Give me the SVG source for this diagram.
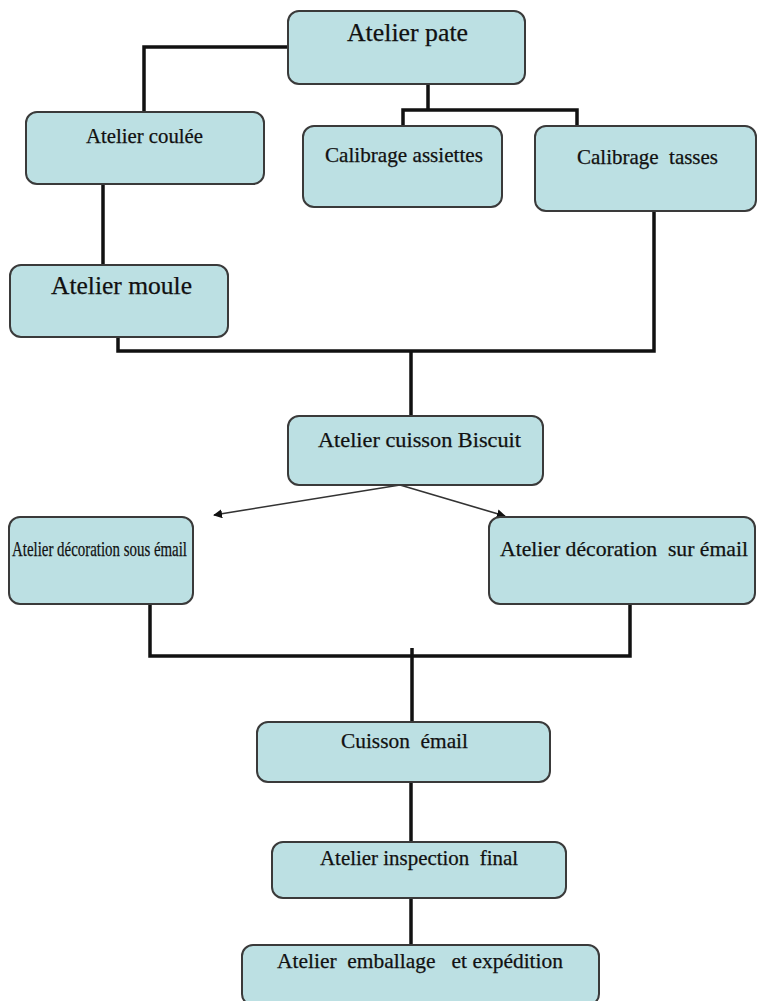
<svg xmlns="http://www.w3.org/2000/svg" width="757" height="1001" viewBox="0 0 757 1001">
<style>
.box{fill:#bce0e3;stroke:#3a3a3a;stroke-width:2}
.t{font-family:"Liberation Serif","Times New Roman",serif;font-size:21px;fill:#111;stroke:#111;stroke-width:0.25;white-space:pre}
.tl{font-family:"Liberation Serif","Times New Roman",serif;font-size:26px;fill:#111;stroke:#111;stroke-width:0.25;white-space:pre}
.c{fill:none;stroke:#111;stroke-width:3.5}
.a{fill:none;stroke:#333;stroke-width:1.6}
</style>
<defs>
<marker id="ah" viewBox="0 0 10 10" refX="9" refY="5" markerWidth="9" markerHeight="9" orient="auto" markerUnits="userSpaceOnUse"><path d="M0,0 L10,5 L0,10 z" fill="#111"/></marker>
</defs>
<rect width="757" height="1001" fill="#fff"/>
<g id="connectors">
<path class="c" d="M288,47 H144 V112"/>
<path class="c" d="M428,84 V110 M403,126 V110 H577 V126"/>
<path class="c" d="M103,184 V265"/>
<path class="c" d="M118,337 V351 H654 V211 M411,351 V416"/>
<path class="a" d="M400,485 L214,515" marker-end="url(#ah)"/>
<path class="a" d="M400,485 L505,516" marker-end="url(#ah)"/>
<path class="c" d="M150,604 V656 H630 V604 M412,648 V722"/>
<path class="c" d="M411,782 V842"/>
<path class="c" d="M411,898 V945"/>
</g>
<g id="n-pate"><rect class="box" x="288" y="11" width="237" height="73" rx="11"/><text class="tl" x="347" y="41" textLength="121" lengthAdjust="spacingAndGlyphs">Atelier pate</text></g>
<g id="n-coulee"><rect class="box" x="26" y="112" width="238" height="72" rx="11"/><text class="t" x="86" y="143" textLength="117" lengthAdjust="spacingAndGlyphs">Atelier coulée</text></g>
<g id="n-assiettes"><rect class="box" x="303" y="126" width="199" height="81" rx="11"/><text class="t" x="325" y="162" textLength="158" lengthAdjust="spacingAndGlyphs">Calibrage assiettes</text></g>
<g id="n-tasses"><rect class="box" x="535" y="126" width="221" height="85" rx="11"/><text class="t" x="577" y="164" textLength="141" lengthAdjust="spacingAndGlyphs">Calibrage  tasses</text></g>
<g id="n-moule"><rect class="box" x="10" y="265" width="218" height="72" rx="11"/><text class="tl" x="51" y="294" textLength="141" lengthAdjust="spacingAndGlyphs">Atelier moule</text></g>
<g id="n-biscuit"><rect class="box" x="288" y="416" width="255" height="69" rx="11"/><text class="t" x="318" y="447" textLength="203" lengthAdjust="spacingAndGlyphs">Atelier cuisson Biscuit</text></g>
<g id="n-sous"><rect class="box" x="9" y="517" width="184" height="87" rx="11"/><text class="t" x="12" y="556" textLength="175" lengthAdjust="spacingAndGlyphs">Atelier décoration sous émail</text></g>
<g id="n-sur"><rect class="box" x="489" y="517" width="266" height="87" rx="11"/><text class="t" x="500" y="556" textLength="248" lengthAdjust="spacingAndGlyphs">Atelier décoration  sur émail</text></g>
<g id="n-cuisson"><rect class="box" x="257" y="722" width="293" height="60" rx="11"/><text class="t" x="341" y="748" textLength="127" lengthAdjust="spacingAndGlyphs">Cuisson  émail</text></g>
<g id="n-inspection"><rect class="box" x="272" y="842" width="294" height="56" rx="11"/><text class="t" x="320" y="865" textLength="198" lengthAdjust="spacingAndGlyphs">Atelier inspection  final</text></g>
<g id="n-emballage"><rect class="box" x="242" y="945" width="357" height="60" rx="11"/><text class="t" x="277" y="968" textLength="286" lengthAdjust="spacingAndGlyphs">Atelier  emballage   et expédition</text></g>
</svg>
